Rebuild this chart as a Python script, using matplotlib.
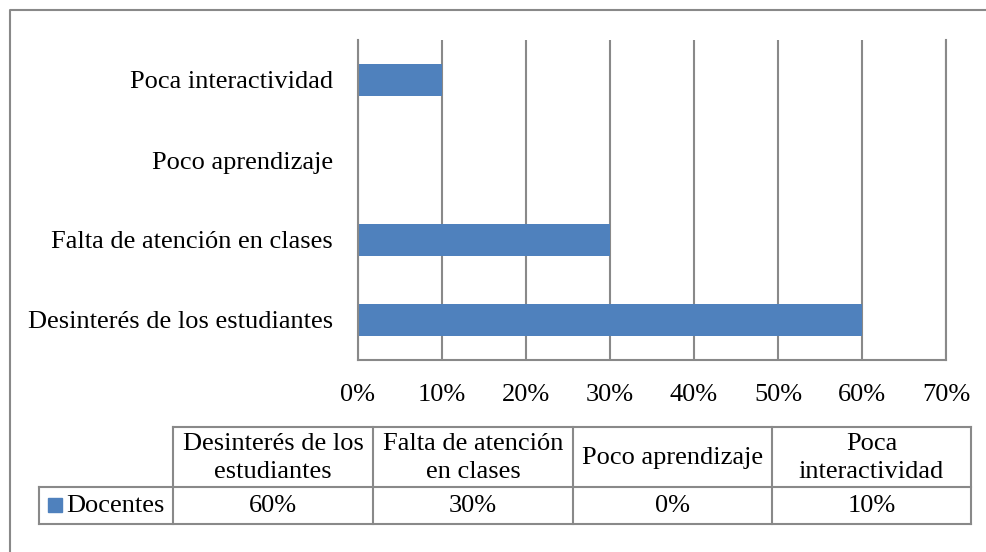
import matplotlib.pyplot as plt
from matplotlib.patches import Rectangle

plt.rcParams['font.family'] = ['Liberation Serif', 'DejaVu Serif']

categorias = ['Desinterés de los estudiantes', 'Falta de atención en clases',
              'Poco aprendizaje', 'Poca interactividad']
encabezados = ['Desinterés de los\nestudiantes', 'Falta de atención\nen clases',
               'Poco aprendizaje', 'Poca\ninteractividad']
docentes = [0.60, 0.30, 0.0, 0.10]
serie = 'Docentes'
ticks = [0, 0.1, 0.2, 0.3, 0.4, 0.5, 0.6, 0.7]

W, H = 987, 552
azul = '#4F81BD'
gris = '#898989'
fs = 19

fig = plt.figure(figsize=(W / 100, H / 100), dpi=100)

# capa de fondo en pixeles para el marco y la tabla
bg = fig.add_axes([0, 0, 1, 1])
bg.set_xlim(0, W)
bg.set_ylim(H, 0)
bg.axis('off')
bg.plot([10, 10, W + 5], [H + 5, 10, 10], color=gris, lw=1.5, clip_on=False)

# grafico de barras
x0, x1, y0, y1 = 358, 946, 40, 360
ax = fig.add_axes([x0 / W, 1 - y1 / H, (x1 - x0) / W, (y1 - y0) / H])
ax.barh(range(len(categorias)), docentes, height=0.41, color=azul, zorder=3)
ax.set_xlim(0, 0.7)
ax.set_ylim(-0.5, len(categorias) - 0.5)
ax.set_xticks(ticks)
ax.set_xticklabels([f'{int(round(t * 100))}%' for t in ticks], fontsize=fs)
ax.set_yticks(range(len(categorias)))
ax.set_yticklabels(categorias, fontsize=fs)
ax.tick_params(length=0, pad=17.5, axis='x')
ax.tick_params(length=0, pad=18, axis='y')
ax.grid(axis='x', color=gris, lw=1.5, zorder=0)
ax.spines['top'].set_visible(False)
for s in ['left', 'bottom', 'right']:
    ax.spines[s].set_color(gris)
    ax.spines[s].set_linewidth(1.5)
    ax.spines[s].set_zorder(4)

# tabla de datos
cols = [173, 373, 573, 772, 971]
ty0, ty1, ty2 = 427, 487, 524
lab_x = 39
kw = dict(color=gris, lw=1.5)
bg.plot([cols[0], cols[-1]], [ty0, ty0], **kw)
bg.plot([lab_x, cols[-1]], [ty1, ty1], **kw)
bg.plot([lab_x, cols[-1]], [ty2, ty2], **kw)
bg.plot([lab_x, lab_x], [ty1, ty2], **kw)
for cx in cols:
    bg.plot([cx, cx], [ty0, ty2], **kw)
for i, (h, v) in enumerate(zip(encabezados, docentes)):
    xc = (cols[i] + cols[i + 1]) / 2
    bg.text(xc, (ty0 + ty1) / 2 + 1, h, ha='center', va='center', fontsize=fs,
            linespacing=1.3)
    bg.text(xc, (ty1 + ty2) / 2, f'{int(round(v * 100))}%', ha='center',
            va='center', fontsize=fs)
bg.add_patch(Rectangle((48, 498), 14, 14, color=azul))
bg.text(66, (ty1 + ty2) / 2, serie, ha='left', va='center', fontsize=fs)

fig.savefig('out.png', dpi=100)
